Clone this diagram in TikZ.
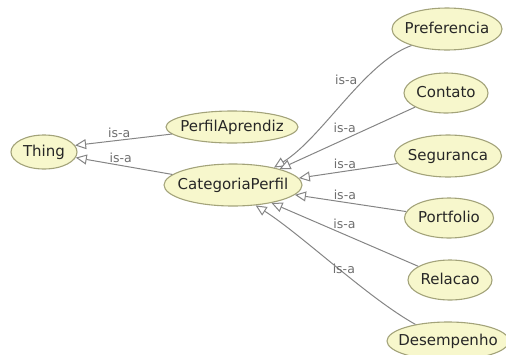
\documentclass[tikz,border=0pt]{standalone}
\usepackage{fontspec}
\setmainfont{DejaVu Sans}
\usetikzlibrary{arrows.meta,shapes.geometric}

\definecolor{fundo}{HTML}{F7F7CC}
\definecolor{borda}{HTML}{A3A37A}
\definecolor{linha}{HTML}{858585}
\definecolor{rotulo}{HTML}{6E6E6E}

\tikzset{
  classe/.style={ellipse, draw=borda, fill=fundo, line width=1.1pt, inner sep=0pt,
    text=black!85, font=\fontsize{15}{18}\selectfont, text height=11pt, text depth=3pt},
  isa/.style={draw=linha, line width=1pt,
    -{Triangle[open, length=11pt, width=10pt, fill=white]}},
  rot/.style={text=rotulo, font=\fontsize{12.5}{14}\selectfont, inner sep=0.5pt},
}
\newcommand{\nome}[1]{\makebox[0pt]{#1}}

\begin{document}
\begin{tikzpicture}[x=1pt, y=-1pt]
    \useasboundingbox (0,0) rectangle (506,354);

    % Classes
    \node[classe, minimum width=66pt, minimum height=34pt] (thing) at (44,152) {\nome{Thing}};
    \node[classe, minimum width=132pt, minimum height=32pt] (pa) at (232,127) {\nome{PerfilAprendiz}};
    \node[classe, minimum width=138pt, minimum height=42pt] (cat) at (233,185) {\nome{CategoriaPerfil}};
    \node[classe, minimum width=110pt, minimum height=42pt] (pref) at (447,29) {\nome{Preferencia}};
    \node[classe, minimum width=84pt, minimum height=40pt] (cont) at (446,93) {\nome{Contato}};
    \node[classe, minimum width=107pt, minimum height=42pt] (seg) at (448,156) {\nome{Seguranca}};
    \node[classe, minimum width=89pt, minimum height=40pt] (port) at (449,218) {\nome{Portfolio}};
    \node[classe, minimum width=84pt, minimum height=40pt] (rel) at (450,280) {\nome{Relacao}};
    \node[classe, minimum width=122pt, minimum height=38pt] (des) at (448,341) {\nome{Desempenho}};

    % Relacoes is-a com Thing
    \draw[isa] (pa) -- node[rot, pos=0.42, anchor=south east] (l1) {is-a} (thing.12);
    \draw[isa] (cat) -- node[rot, pos=0.66, anchor=south west] (l2) {is-a} (thing.-10);

    % Relacoes is-a com CategoriaPerfil
    \draw[isa] (pref.205) .. controls (365,62) and (322,138) ..
        node[rot, pos=0.39, anchor=south east] (l3) {is-a} (cat.23);
    \draw[isa] (cont) -- node[rot, pos=0.43, anchor=south east] (l4) {is-a} (cat.19);
    \draw[isa] (seg) -- node[rot, pos=0.41, anchor=south east] (l5) {is-a} (cat.6);
    \draw[isa] (port) -- node[rot, pos=0.66, anchor=south west] (l6) {is-a} (cat.-9.5);
    \draw[isa] (rel) -- node[rot, pos=0.585, anchor=south west] (l7) {is-a} (cat.-25);
    \draw[isa] (des.153) .. controls (368,298) and (302,235) ..
        node[rot, pos=0.52, anchor=north west] (l8) {is-a} (cat.-42);
\end{tikzpicture}
\end{document}
